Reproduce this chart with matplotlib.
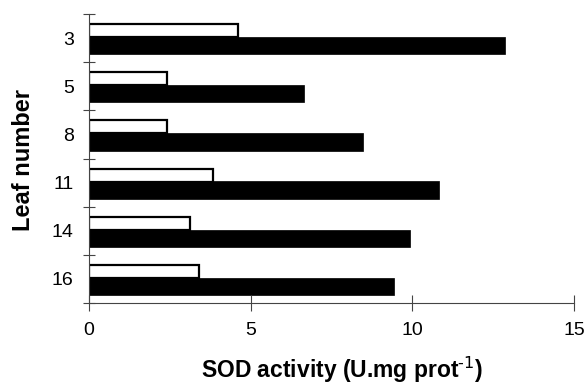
import numpy as np
import matplotlib
matplotlib.use('Agg')
import matplotlib.pyplot as plt

plt.rcParams['font.family'] = ['Liberation Sans', 'DejaVu Sans']

leaf_numbers = ['3', '5', '8', '11', '14', '16']
white_values = [4.6, 2.41, 2.41, 3.83, 3.11, 3.41]
black_values = [12.87, 6.66, 8.46, 10.82, 9.94, 9.43]

fig = plt.figure(figsize=(5.87, 3.88), dpi=100)
ax = fig.add_axes([89 / 587, 1 - 303 / 388, 485 / 587, 289 / 388])

pos = np.arange(len(leaf_numbers))
# white bar sits above, black bar below, inside each category band
ax.barh(pos - 0.156, white_values, height=0.27, color='white',
        edgecolor='black', linewidth=1.6)
ax.barh(pos + 0.156, black_values, height=0.36, color='black',
        edgecolor='black', linewidth=0.5)

ax.set_xlim(0, 15)
ax.set_ylim(len(leaf_numbers) - 0.5, -0.5)

ax.set_yticks(pos)
ax.set_yticklabels(leaf_numbers)
ax.set_yticks(np.arange(len(leaf_numbers) + 1) - 0.5, minor=True)
ax.tick_params(axis='y', which='major', length=0, pad=11, labelsize=14)
ax.tick_params(axis='y', which='minor', direction='inout', length=9,
               color='#444444', width=0.8)

ax.set_xticks([0, 5, 10, 15])
ax.tick_params(axis='x', direction='inout', length=12, color='#444444',
               width=0.8, pad=8, labelsize=14)

for side in ['top', 'right']:
    ax.spines[side].set_visible(False)
for side in ['left', 'bottom']:
    ax.spines[side].set_color('#444444')
    ax.spines[side].set_linewidth(0.8)

ax.set_xlabel('SOD activity (U.mg prot$^{\\text{-1}}$)',
              fontsize=16.5, fontweight='bold')
ax.xaxis.set_label_coords(0.522, -0.18)
ax.set_ylabel('Leaf number', fontsize=17, fontweight='bold')
ax.yaxis.set_label_coords(-0.112, 0.495)

fig.savefig('out.png', dpi=100)
